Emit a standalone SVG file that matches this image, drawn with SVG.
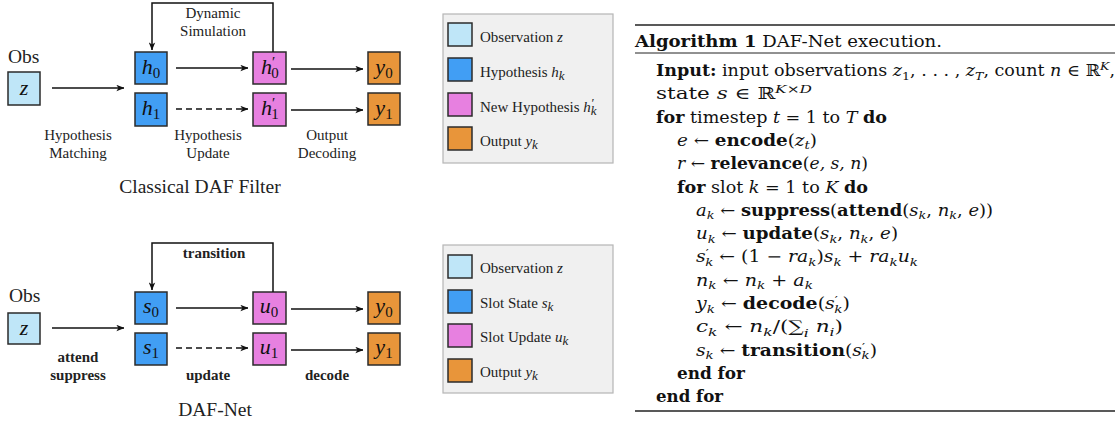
<svg xmlns="http://www.w3.org/2000/svg" width="1119" height="423" viewBox="0 0 1119 423">
  <style>
    .box { stroke: #2b2b2b; stroke-width: 1.5; }
    .obs { fill: #bfe6f8; }
    .hyp { fill: #419ef4; }
    .upd { fill: #e780e0; }
    .out { fill: #e8953a; }
    .edge { stroke: #111; stroke-width: 1.5; fill: none; }
    .dash { stroke-dasharray: 6 4; }
    .lbl { font-family: "Liberation Serif", "DejaVu Serif", serif; font-size: 15px; fill: #222; }
    .bold { font-weight: bold; }
    .big { font-family: "Liberation Serif", "DejaVu Serif", serif; font-size: 19.5px; fill: #222; }
    .sym { font-family: "Liberation Serif", "DejaVu Serif", serif; font-style: italic; font-size: 22px; fill: #111; }
    .digit { font-style: normal; font-size: 15px; }
    .i { font-style: italic; }
    .leg { fill: #f0f0f0; stroke: #b5b5b5; stroke-width: 1.2; }
    #algorithm text { font-family: "DejaVu Serif", "Liberation Serif", serif; font-size: 16px; fill: #111; }
    #algorithm tspan.s { font-size: 11.5px; }
    .s { font-size: 13px; }
    .rule { stroke: #222; }
  </style>
  <defs>
    <marker id="ah" viewBox="0 0 10 8" refX="9.5" refY="4" markerWidth="8" markerHeight="7" markerUnits="userSpaceOnUse" orient="auto">
      <path d="M0,0 L10,4 L0,8 L2.5,4 z" fill="#111"/>
    </marker>
  </defs>

  <!-- ===== Classical DAF Filter ===== -->
  <text class="big" x="8" y="63">Obs</text>
  <g id="f-z"><rect class="box obs" x="8" y="72" width="32" height="33"/>
    <text class="sym" x="24" y="95" text-anchor="middle">z</text></g>
  <g id="f-h0"><rect class="box hyp" x="135" y="52" width="32" height="32"/>
    <text class="sym" x="151" y="74" text-anchor="middle">h<tspan class="digit" dy="4">0</tspan></text></g>
  <g id="f-h1"><rect class="box hyp" x="135" y="93" width="32" height="33"/>
    <text class="sym" x="151" y="115" text-anchor="middle">h<tspan class="digit" dy="4">1</tspan></text></g>
  <g id="f-hp0"><rect class="box upd" x="253" y="52" width="33" height="32"/>
    <text class="sym" x="261" y="74">h<tspan class="digit" dy="-7">′</tspan><tspan class="digit" dx="-4" dy="11">0</tspan></text></g>
  <g id="f-hp1"><rect class="box upd" x="253" y="93" width="33" height="33"/>
    <text class="sym" x="261" y="115">h<tspan class="digit" dy="-7">′</tspan><tspan class="digit" dx="-4" dy="11">1</tspan></text></g>
  <g id="f-y0"><rect class="box out" x="368" y="52" width="32" height="32"/>
    <text class="sym" x="384" y="74" text-anchor="middle">y<tspan class="digit" dy="4">0</tspan></text></g>
  <g id="f-y1"><rect class="box out" x="368" y="93" width="32" height="32"/>
    <text class="sym" x="384" y="115" text-anchor="middle">y<tspan class="digit" dy="4">1</tspan></text></g>

  <g id="f-edges">
    <path class="edge" d="M52,88 H124" marker-end="url(#ah)"/>
    <path class="edge" d="M176,68 H248" marker-end="url(#ah)"/>
    <path class="edge dash" d="M176,109 H248" marker-end="url(#ah)"/>
    <path class="edge" d="M291,69 H363" marker-end="url(#ah)"/>
    <path class="edge" d="M291,110 H363" marker-end="url(#ah)"/>
    <path class="edge" d="M273,52 V3 H152 V50" marker-end="url(#ah)"/>
  </g>

  <text class="lbl" x="213" y="18" text-anchor="middle">Dynamic</text>
  <text class="lbl" x="213" y="36" text-anchor="middle">Simulation</text>
  <text class="lbl" x="78" y="140" text-anchor="middle">Hypothesis</text>
  <text class="lbl" x="78" y="158" text-anchor="middle">Matching</text>
  <text class="lbl" x="208" y="140" text-anchor="middle">Hypothesis</text>
  <text class="lbl" x="208" y="158" text-anchor="middle">Update</text>
  <text class="lbl" x="327" y="140" text-anchor="middle">Output</text>
  <text class="lbl" x="327" y="158" text-anchor="middle">Decoding</text>
  <text class="big" x="200" y="193" text-anchor="middle">Classical DAF Filter</text>

  <!-- legend: filter -->
  <g id="legend-filter">
    <rect class="leg" x="443" y="14" width="170" height="149"/>
    <rect class="box obs" x="448" y="23" width="24" height="23"/>
    <rect class="box hyp" x="448" y="58" width="24" height="23"/>
    <rect class="box upd" x="448" y="93" width="24" height="23"/>
    <rect class="box out" x="448" y="127" width="24" height="23"/>
    <text class="lbl" x="480" y="42">Observation <tspan class="i">z</tspan></text>
    <text class="lbl" x="480" y="77">Hypothesis <tspan class="i">h<tspan class="s" dy="3">k</tspan></tspan></text>
    <text class="lbl" x="480" y="112">New Hypothesis <tspan class="i">h<tspan class="s" dy="-5">′</tspan><tspan class="s" dx="-3" dy="8">k</tspan></tspan></text>
    <text class="lbl" x="480" y="146">Output <tspan class="i">y<tspan class="s" dy="3">k</tspan></tspan></text>
  </g>

  <!-- ===== DAF-Net ===== -->
  <text class="big" x="9" y="302">Obs</text>
  <g id="n-z"><rect class="box obs" x="8" y="313" width="32" height="31"/>
    <text class="sym" x="24" y="335" text-anchor="middle">z</text></g>
  <g id="n-s0"><rect class="box hyp" x="135" y="292" width="32" height="32"/>
    <text class="sym" x="151" y="313" text-anchor="middle">s<tspan class="digit" dy="4">0</tspan></text></g>
  <g id="n-s1"><rect class="box hyp" x="135" y="333" width="32" height="32"/>
    <text class="sym" x="151" y="354" text-anchor="middle">s<tspan class="digit" dy="4">1</tspan></text></g>
  <g id="n-u0"><rect class="box upd" x="253" y="292" width="33" height="32"/>
    <text class="sym" x="269" y="313" text-anchor="middle">u<tspan class="digit" dy="4">0</tspan></text></g>
  <g id="n-u1"><rect class="box upd" x="253" y="333" width="33" height="32"/>
    <text class="sym" x="269" y="354" text-anchor="middle">u<tspan class="digit" dy="4">1</tspan></text></g>
  <g id="n-y0"><rect class="box out" x="368" y="292" width="32" height="32"/>
    <text class="sym" x="384" y="313" text-anchor="middle">y<tspan class="digit" dy="4">0</tspan></text></g>
  <g id="n-y1"><rect class="box out" x="368" y="333" width="32" height="32"/>
    <text class="sym" x="384" y="354" text-anchor="middle">y<tspan class="digit" dy="4">1</tspan></text></g>

  <g id="n-edges">
    <path class="edge" d="M52,328 H124" marker-end="url(#ah)"/>
    <path class="edge" d="M176,308 H248" marker-end="url(#ah)"/>
    <path class="edge dash" d="M176,348 H248" marker-end="url(#ah)"/>
    <path class="edge" d="M291,309 H363" marker-end="url(#ah)"/>
    <path class="edge" d="M291,350 H363" marker-end="url(#ah)"/>
    <path class="edge" d="M273,292 V243 H152 V290" marker-end="url(#ah)"/>
  </g>

  <text class="lbl bold" x="214" y="258" text-anchor="middle">transition</text>
  <text class="lbl bold" x="78" y="362" text-anchor="middle">attend</text>
  <text class="lbl bold" x="78" y="380" text-anchor="middle">suppress</text>
  <text class="lbl bold" x="208" y="380" text-anchor="middle">update</text>
  <text class="lbl bold" x="327" y="380" text-anchor="middle">decode</text>
  <text class="big" x="215" y="416" text-anchor="middle">DAF-Net</text>

  <!-- legend: network -->
  <g id="legend-net">
    <rect class="leg" x="443" y="245" width="170" height="148"/>
    <rect class="box obs" x="448" y="255" width="24" height="23"/>
    <rect class="box hyp" x="448" y="290" width="24" height="23"/>
    <rect class="box upd" x="448" y="324" width="24" height="23"/>
    <rect class="box out" x="448" y="359" width="24" height="23"/>
    <text class="lbl" x="480" y="273">Observation <tspan class="i">z</tspan></text>
    <text class="lbl" x="480" y="308">Slot State <tspan class="i">s<tspan class="s" dy="3">k</tspan></tspan></text>
    <text class="lbl" x="480" y="342">Slot Update <tspan class="i">u<tspan class="s" dy="3">k</tspan></tspan></text>
    <text class="lbl" x="480" y="377">Output <tspan class="i">y<tspan class="s" dy="3">k</tspan></tspan></text>
  </g>

  <!-- ===== Algorithm listing ===== -->
  <g id="algorithm">
    <line class="rule" x1="635" y1="25" x2="1115" y2="25" stroke-width="1.6"/>
    <text x="635" y="47" textLength="307" lengthAdjust="spacingAndGlyphs"><tspan class="bold">Algorithm 1</tspan> DAF-Net execution.</text>
    <line class="rule" x1="635" y1="53" x2="1115" y2="53" stroke-width="1"/>

    <text x="656" y="76" textLength="459" lengthAdjust="spacingAndGlyphs"><tspan class="bold">Input:</tspan> input observations <tspan class="i">z</tspan><tspan class="s" dy="3.5">1</tspan><tspan dy="-3.5">, . . . , </tspan><tspan class="i">z</tspan><tspan class="s i" dy="3.5">T</tspan><tspan dy="-3.5">, count </tspan><tspan class="i">n</tspan> ∈ ℝ<tspan class="s i" dy="-6">K</tspan><tspan dy="6">,</tspan></text>
    <text x="656" y="99.3" textLength="156" lengthAdjust="spacingAndGlyphs">state <tspan class="i">s</tspan> ∈ ℝ<tspan class="s i" dy="-6">K</tspan><tspan class="s">×</tspan><tspan class="s i">D</tspan></text>
    <text x="656" y="122.6" textLength="231" lengthAdjust="spacingAndGlyphs"><tspan class="bold">for</tspan> timestep <tspan class="i">t</tspan> = 1 to <tspan class="i">T</tspan> <tspan class="bold">do</tspan></text>
    <text x="677" y="145.9" textLength="140" lengthAdjust="spacingAndGlyphs"><tspan class="i">e</tspan> ← <tspan class="bold">encode</tspan>(<tspan class="i">z</tspan><tspan class="s i" dy="3.5">t</tspan><tspan dy="-3.5">)</tspan></text>
    <text x="677" y="169.2" textLength="191" lengthAdjust="spacingAndGlyphs"><tspan class="i">r</tspan> ← <tspan class="bold">relevance</tspan>(<tspan class="i">e, s, n</tspan>)</text>
    <text x="677" y="192.5" textLength="191" lengthAdjust="spacingAndGlyphs"><tspan class="bold">for</tspan> slot <tspan class="i">k</tspan> = 1 to <tspan class="i">K</tspan> <tspan class="bold">do</tspan></text>
    <text x="696" y="215.8" textLength="297" lengthAdjust="spacingAndGlyphs"><tspan class="i">a</tspan><tspan class="s i" dy="3.5">k</tspan><tspan dy="-3.5"> ← </tspan><tspan class="bold">suppress</tspan>(<tspan class="bold">attend</tspan>(<tspan class="i">s</tspan><tspan class="s i" dy="3.5">k</tspan><tspan dy="-3.5">, </tspan><tspan class="i">n</tspan><tspan class="s i" dy="3.5">k</tspan><tspan dy="-3.5">, </tspan><tspan class="i">e</tspan>))</text>
    <text x="696" y="239.1" textLength="202" lengthAdjust="spacingAndGlyphs"><tspan class="i">u</tspan><tspan class="s i" dy="3.5">k</tspan><tspan dy="-3.5"> ← </tspan><tspan class="bold">update</tspan>(<tspan class="i">s</tspan><tspan class="s i" dy="3.5">k</tspan><tspan dy="-3.5">, </tspan><tspan class="i">n</tspan><tspan class="s i" dy="3.5">k</tspan><tspan dy="-3.5">, </tspan><tspan class="i">e</tspan>)</text>
    <text x="696" y="262.4" textLength="222" lengthAdjust="spacingAndGlyphs"><tspan class="i">s</tspan><tspan class="s" dy="-5">′</tspan><tspan class="s i" dx="-3" dy="8.5">k</tspan><tspan dy="-3.5"> ← (1 − </tspan><tspan class="i">ra</tspan><tspan class="s i" dy="3.5">k</tspan><tspan dy="-3.5">)</tspan><tspan class="i">s</tspan><tspan class="s i" dy="3.5">k</tspan><tspan dy="-3.5"> + </tspan><tspan class="i">ra</tspan><tspan class="s i" dy="3.5">k</tspan><tspan class="i" dy="-3.5">u</tspan><tspan class="s i" dy="3.5">k</tspan></text>
    <text x="696" y="285.7" textLength="117" lengthAdjust="spacingAndGlyphs"><tspan class="i">n</tspan><tspan class="s i" dy="3.5">k</tspan><tspan dy="-3.5"> ← </tspan><tspan class="i">n</tspan><tspan class="s i" dy="3.5">k</tspan><tspan dy="-3.5"> + </tspan><tspan class="i">a</tspan><tspan class="s i" dy="3.5">k</tspan></text>
    <text x="696" y="309" textLength="154" lengthAdjust="spacingAndGlyphs"><tspan class="i">y</tspan><tspan class="s i" dy="3.5">k</tspan><tspan dy="-3.5"> ← </tspan><tspan class="bold">decode</tspan>(<tspan class="i">s</tspan><tspan class="s" dy="-5">′</tspan><tspan class="s i" dx="-3" dy="8.5">k</tspan><tspan dy="-3.5">)</tspan></text>
    <text x="696" y="332.3" textLength="147" lengthAdjust="spacingAndGlyphs"><tspan class="i">c</tspan><tspan class="s i" dy="3.5">k</tspan><tspan dy="-3.5"> ← </tspan><tspan class="i">n</tspan><tspan class="s i" dy="3.5">k</tspan><tspan dy="-3.5">/(∑</tspan><tspan class="s i" dy="4.5">i</tspan><tspan class="i" dy="-4.5"> n</tspan><tspan class="s i" dy="3.5">i</tspan><tspan dy="-3.5">)</tspan></text>
    <text x="696" y="355.6" textLength="181" lengthAdjust="spacingAndGlyphs"><tspan class="i">s</tspan><tspan class="s i" dy="3.5">k</tspan><tspan dy="-3.5"> ← </tspan><tspan class="bold">transition</tspan>(<tspan class="i">s</tspan><tspan class="s" dy="-5">′</tspan><tspan class="s i" dx="-3" dy="8.5">k</tspan><tspan dy="-3.5">)</tspan></text>
    <text x="677" y="378.9" textLength="68" lengthAdjust="spacingAndGlyphs" class="bold">end for</text>
    <text x="656" y="402.2" textLength="67" lengthAdjust="spacingAndGlyphs" class="bold">end for</text>
    <line class="rule" x1="635" y1="411" x2="1115" y2="411" stroke-width="1.4"/>
  </g>
</svg>
